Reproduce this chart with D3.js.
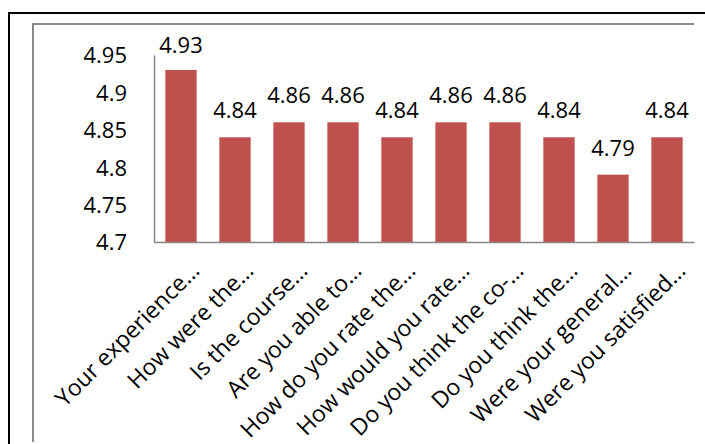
<!DOCTYPE html>
<html><head><meta charset="utf-8">
<script src="https://cdn.jsdelivr.net/npm/d3@7"></script>
<style>
html,body{margin:0;padding:0;background:#fff;}
svg{display:block;font-family:"Open Sans",sans-serif;}
</style></head>
<body>
<svg id="chart" width="705" height="444"></svg>
<script>
const categories = ["Your experience…","How were the…","Is the course…","Are you able to…","How do you rate the…","How would you rate…","Do you think the co-…","Do you think the…","Were your general…","Were you satisfied…"];
const values = [4.93,4.84,4.86,4.86,4.84,4.86,4.86,4.84,4.79,4.84];
const yTicks = [4.7,4.75,4.8,4.85,4.9,4.95];

const svg = d3.select("#chart");
const mLeft = 154, mRight = 694, mTop = 55, mBottom = 242;

// outer black frame
svg.append("path").attr("d","M9,444V13H705").attr("fill","none").attr("stroke","#000").attr("stroke-width",2);
// inner gray frame
svg.append("path").attr("d","M33,442V24H694").attr("fill","none").attr("stroke","#898989").attr("stroke-width",2);

const x = d3.scaleBand().domain(categories).range([mLeft,mRight]).paddingInner(0.42).paddingOuter(0.21);
const y = d3.scaleLinear().domain([4.7,4.95]).range([mBottom,mTop]);

// y axis
const yAxis = svg.append("g").attr("transform",`translate(${mLeft},0)`)
  .call(d3.axisLeft(y).tickValues(yTicks).tickFormat(d=>String(+d.toFixed(2))).tickSize(0).tickPadding(27));
yAxis.select(".domain").attr("stroke","#868686").attr("stroke-width",1.5);
yAxis.selectAll("text").attr("font-size",22).attr("font-family","Open Sans").attr("fill","#000").attr("dy","0.36em");

// bars
svg.selectAll("rect.bar").data(values).join("rect").attr("class","bar")
  .attr("x",(d,i)=>x(categories[i])).attr("width",x.bandwidth())
  .attr("y",d=>y(d)).attr("height",d=>mBottom-y(d)).attr("fill","#C0504D");

// x axis
const xAxis = svg.append("g").attr("transform",`translate(0,${mBottom})`)
  .call(d3.axisBottom(x).tickSize(0).tickSizeOuter(0).tickPadding(0));
xAxis.select(".domain").attr("stroke","#868686").attr("stroke-width",1.5);
xAxis.selectAll("text").attr("font-size",23).attr("font-family","Open Sans").attr("fill","#000")
  .attr("text-anchor","end").attr("dy",0)
  .attr("transform","translate(20,30) rotate(-45)");

// value labels
svg.selectAll("text.val").data(values).join("text").attr("class","val")
  .attr("x",(d,i)=>x(categories[i])+x.bandwidth()/2)
  .attr("y",d=>Math.max(y(d)-19,53))
  .attr("text-anchor","middle").attr("font-size",22).attr("fill","#000")
  .text(d=>d.toFixed(2));
</script>
</body></html>
